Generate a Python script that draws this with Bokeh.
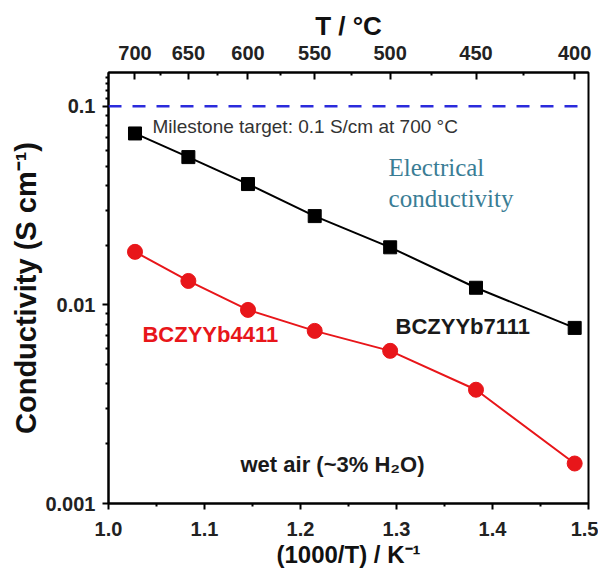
from bokeh.plotting import figure
from bokeh.models import (Range1d, LinearAxis, FixedTicker, CustomJSTickFormatter,
                          Span, ColumnDataSource)
from bokeh.core.properties import value
from bokeh.embed import file_html
from bokeh.resources import INLINE

# ---- data ----
temps_c = [700, 650, 600, 550, 500, 450, 400]
inv_t = [round(1000.0 / (t + 273.15), 4) for t in temps_c]
sigma_7111 = [0.073, 0.0555, 0.0406, 0.0280, 0.0195, 0.0122, 0.00766]
sigma_4411 = [0.0185, 0.0132, 0.00944, 0.0074, 0.00587, 0.00374, 0.00159]

x_ticks = [1.0, 1.1, 1.2, 1.3, 1.4, 1.5]
x_tick_labels = ["1.0", "1.1", "1.2", "1.3", "1.4", "1.5"]
x_minor = [1.05, 1.15, 1.25, 1.35, 1.45]
y_ticks = [0.001, 0.01, 0.1]
y_tick_labels = ["0.001", "0.01", "0.1"]
top_ticks_c = [700, 650, 600, 550, 500, 450, 400]
top_minor_c = [675, 625, 575, 525, 475, 425]
target = 0.1

FONT = "Liberation Sans"

p = figure(width=598, height=572, x_range=Range1d(1.0, 1.5),
           y_range=Range1d(0.001, 0.148), y_axis_type="log",
           output_backend="svg", toolbar_location=None,
           min_border_left=108, min_border_right=10, min_border_top=72,
           min_border_bottom=69)
p.background_fill_color = "white"
p.border_fill_color = "white"
p.grid.visible = False
p.outline_line_color = "black"
p.outline_line_width = 2

# bottom axis
xa = p.xaxis[0]
xa.ticker = FixedTicker(ticks=x_ticks, minor_ticks=x_minor)
xa.major_label_overrides = {t: l for t, l in zip(x_ticks, x_tick_labels)}
xa.axis_label = "(1000/T) / K⁻¹"

# left axis
ya = p.yaxis[0]
minor_y = [m * d for d in (0.001, 0.01) for m in range(2, 10)] + [0.11, 0.12, 0.13, 0.14]
ya.ticker = FixedTicker(ticks=y_ticks, minor_ticks=minor_y)
ya.major_label_overrides = {t: l for t, l in zip(y_ticks, y_tick_labels)}
ya.axis_label = "Conductivity (S cm⁻¹)"

# top axis (temperature)
p.extra_x_ranges = {"top": Range1d(1.0, 1.5)}
top_pos = [1000.0 / (t + 273.15) for t in top_ticks_c]
top_minor = [1000.0 / (t + 273.15) for t in top_minor_c]
ta = LinearAxis(x_range_name="top",
                ticker=FixedTicker(ticks=top_pos, minor_ticks=top_minor),
                formatter=CustomJSTickFormatter(code="return String(Math.round(1000/tick - 273.15));"),
                axis_label="T / °C")
p.add_layout(ta, "above")

for ax in (xa, ya, ta):
    ax.axis_line_color = "black"
    ax.axis_line_width = 2
    ax.major_tick_line_color = "black"
    ax.major_tick_line_width = 2
    ax.minor_tick_line_color = "black"
    ax.minor_tick_line_width = 2
    ax.major_label_text_font = FONT
    ax.major_label_text_font_style = "bold"
    ax.major_label_text_font_size = "20px"
    ax.major_label_text_color = "#222222"
    ax.axis_label_text_font = FONT
    ax.axis_label_text_font_style = "bold"
    ax.axis_label_text_color = "#111111"

xa.major_tick_out = 6
xa.major_tick_in = 0
xa.minor_tick_out = 3
xa.minor_tick_in = 0
xa.major_label_standoff = 12
xa.axis_label_standoff = 2
xa.axis_label_text_font_size = "24px"

ya.major_tick_out = 6
ya.major_tick_in = 0
ya.minor_tick_out = 3
ya.minor_tick_in = 0
ya.major_label_standoff = 7
ya.axis_label_standoff = 0
ya.axis_label_text_font_size = "29px"

ta.major_tick_out = 0
ta.major_tick_in = 7
ta.minor_tick_out = 0
ta.minor_tick_in = 3
ta.major_label_standoff = 13
ta.axis_label_standoff = 2
ta.axis_label_text_font_size = "26px"

# target line
p.add_layout(Span(location=target, dimension="width", line_color="#2b2bdc",
                  line_width=2.5, line_dash="13 11"))

src = ColumnDataSource(dict(x=inv_t, a=sigma_7111, b=sigma_4411))
p.line("x", "a", source=src, line_color="black", line_width=2)
p.scatter("x", "a", source=src, marker="square", size=13, color="black")
p.line("x", "b", source=src, line_color="#e8161a", line_width=2)
p.scatter("x", "b", source=src, marker="circle", size=15, color="#e8161a")

# annotations
p.text(x=[1.0458], y=[0.0793], text=["Milestone target: 0.1 S/cm at 700 °C"],
       text_font=value(FONT), text_font_size="19px", text_color="#333333",
       text_baseline="middle", text_align="left")
p.text(x=[1.2917, 1.2917], y=[0.0494, 0.0345], text=["Electrical", "conductivity"],
       text_font=value("Liberation Serif"), text_font_size="25px", text_color="#3a7d95",
       text_baseline="middle", text_align="left")
p.text(x=[1.299], y=[0.00775], text=["BCZYYb7111"],
       text_font=value(FONT), text_font_style="bold", text_font_size="22px",
       text_color="#1a1a1a", text_baseline="middle", text_align="left")
p.text(x=[1.0354], y=[0.00706], text=["BCZYYb4411"],
       text_font=value(FONT), text_font_style="bold", text_font_size="22px",
       text_color="#e8161a", text_baseline="middle", text_align="left")
p.text(x=[1.1375], y=[0.00157], text=["wet air (~3% H₂O)"],
       text_font=value(FONT), text_font_style="bold", text_font_size="22px",
       text_color="#1a1a1a", text_baseline="middle", text_align="left")

open("out.html", "w").write(file_html(p, INLINE))
